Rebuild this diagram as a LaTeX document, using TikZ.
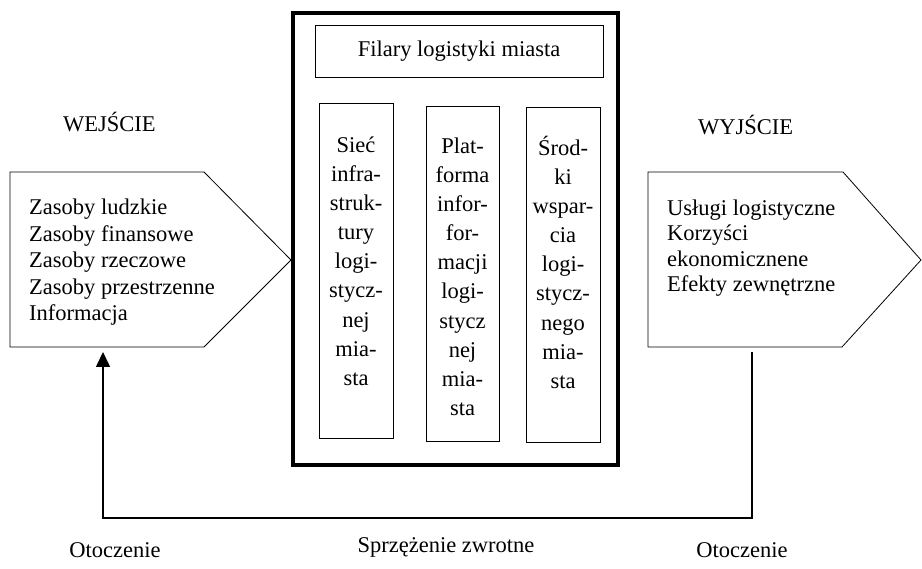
\documentclass[tikz,border=0pt]{standalone}
\usepackage{fontspec}
\setmainfont{Liberation Serif}
\usetikzlibrary{arrows.meta}

\begin{document}
\begin{tikzpicture}[x=1pt,y=-1pt,
  napis/.style={font=\fontsize{22.5}{26.5}\selectfont, inner sep=0pt},
  kolumna/.style={draw, line width=0.8pt, minimum width=74pt, minimum height=335pt, inner sep=0pt},
  kolumnanapis/.style={napis, align=center, anchor=base, font=\fontsize{22.5}{29.2}\selectfont},
  obrys/.style={line width=0.8pt},
  zwrot/.style={line width=1.6pt}]
\useasboundingbox (0,0) rectangle (922,569);
% wejscie
\draw [obrys] (10,172) -- (204,172) -- (291,260) -- (204,347) -- (10,347) -- cycle;
\node [napis, anchor=base west] (wejscie) at (63,132) {WEJŚCIE};
% (anchor base = last line)
\node [napis, align=left, anchor=base west] (zasoby) at (29,321) {Zasoby ludzkie\\Zasoby finansowe\\Zasoby rzeczowe\\Zasoby przestrzenne\\Informacja};
% filary
\draw [line width=4.5pt] (293,13) rectangle (618,465);
\node [draw, line width=0.8pt, minimum width=288pt, minimum height=52pt, napis] (filary) at (459,51) {Filary logistyki miasta};
\node [kolumna] (siec) at (356,270.5) {};
\node [kolumna, minimum width=73pt] (platforma) at (462.5,274) {};
\node [kolumna] (srodki) at (563,274.5) {};
\node [kolumnanapis] at (siec.center |- 0,385.6) {Sieć\\infra-\\struk-\\tury\\logi-\\stycz-\\nej\\mia-\\sta};
\node [kolumnanapis] at (platforma.center |- 0,415.8) {Plat-\\forma\\infor-\\for-\\macji\\logi-\\stycz\\nej\\mia-\\sta};
\node [kolumnanapis] at (srodki.center |- 0,388.6) {Środ-\\ki\\wspar-\\cia\\logi-\\stycz-\\nego\\mia-\\sta};
% wyjscie
\draw [obrys] (648,172) -- (843,172) -- (921,260) -- (842,347) -- (648,347) -- cycle;
\node [napis, anchor=base west] (wyjscie) at (698,135) {WYJŚCIE};
\node [napis, align=left, anchor=base west, font=\fontsize{22.5}{25.6}\selectfont] (uslugi) at (667,292) {Usługi logistyczne\\Korzyści\\ekonomicznene\\Efekty zewnętrzne};
% sprzezenie zwrotne
\coordinate (zwrotA) at (752,352);
\coordinate (zwrotB) at (752,518);
\coordinate (zwrotC) at (103,352);
\draw [zwrot, -{Triangle[length=15pt,width=14pt]}] (zwrotA) -- (zwrotB) -| (zwrotC);
\node [napis, anchor=base] (otoczenieL) at (115,557) {Otoczenie};
\node [napis, anchor=base] (sprzezenie) at (446,552) {Sprzężenie zwrotne};
\node [napis, anchor=base] (otoczenieP) at (742,557) {Otoczenie};
\end{tikzpicture}
\end{document}
